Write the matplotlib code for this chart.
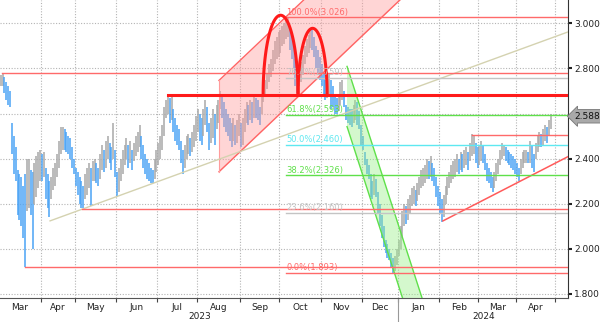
import numpy as np
import pandas as pd
import matplotlib
matplotlib.use("Agg")
import matplotlib.pyplot as plt
from matplotlib.collections import LineCollection
import matplotlib.transforms as mtransforms

# ---------------- data (daily high / low) ----------------
highs = [
    2.76, 2.77, 2.78, 2.76, 2.74, 2.72, 2.70, 2.56, 2.50, 2.45, 2.35, 2.33, 2.32, 2.28, 2.33, 2.40, 2.40, 2.35, 2.34, 2.38, 2.41, 2.43, 2.44,
    2.42, 2.43, 2.36, 2.33, 2.30, 2.32, 2.36, 2.38, 2.42, 2.48, 2.54, 2.54, 2.53, 2.52, 2.50, 2.49, 2.45, 2.40,
    2.36, 2.34, 2.32, 2.30, 2.28, 2.33, 2.36, 2.38, 2.36, 2.39, 2.40, 2.38, 2.36, 2.42, 2.46, 2.44, 2.48, 2.50, 2.47, 2.45, 2.56, 2.44,
    2.34, 2.36, 2.40, 2.44, 2.46, 2.49, 2.46, 2.48, 2.44, 2.47, 2.50, 2.52, 2.55, 2.50, 2.46, 2.42, 2.40, 2.38, 2.36, 2.35, 2.40, 2.44,
    2.47, 2.50, 2.55, 2.63, 2.66, 2.68, 2.67, 2.68, 2.62, 2.58, 2.55, 2.53, 2.48, 2.44, 2.46, 2.50, 2.51, 2.49, 2.52, 2.55, 2.59,
    2.62, 2.60, 2.58, 2.62, 2.66, 2.63, 2.56, 2.58, 2.62, 2.60, 2.64, 2.66, 2.70, 2.68, 2.65, 2.62, 2.60, 2.58, 2.56, 2.58, 2.55, 2.57, 2.60,
    2.56, 2.58, 2.62, 2.65, 2.64, 2.66, 2.65, 2.68, 2.67, 2.66, 2.63, 2.68, 2.72, 2.75, 2.78, 2.82, 2.84, 2.88, 2.92, 2.94, 2.96,
    2.97, 2.99, 3.00, 3.02, 3.026, 2.98, 2.95, 2.90, 2.84, 2.78, 2.80, 2.83, 2.86, 2.90, 2.93, 2.95, 2.98, 2.97, 2.94, 2.90, 2.88, 2.85,
    2.82, 2.78, 2.75, 2.74, 2.78, 2.75, 2.72, 2.68, 2.67, 2.68, 2.74, 2.75, 2.70, 2.64, 2.63, 2.62, 2.62, 2.64, 2.66, 2.65, 2.61, 2.55,
    2.50, 2.43, 2.40, 2.37, 2.33, 2.30, 2.33, 2.31, 2.25, 2.20, 2.15, 2.10, 2.04, 2.02, 2.00, 1.98, 1.96, 1.97, 2.00,
    2.04, 2.10, 2.17, 2.20, 2.19, 2.22, 2.24, 2.27, 2.28, 2.26, 2.29, 2.32, 2.35, 2.36, 2.37, 2.40, 2.39, 2.41, 2.38, 2.36, 2.32, 2.28,
    2.25, 2.22, 2.24, 2.28, 2.32, 2.34, 2.37, 2.39, 2.40, 2.42, 2.40, 2.43, 2.42, 2.44, 2.45, 2.43, 2.47, 2.51, 2.50, 2.47, 2.45,
    2.46, 2.48, 2.46, 2.42, 2.38, 2.36, 2.34, 2.32, 2.34, 2.38, 2.40, 2.44, 2.47, 2.46, 2.45, 2.44, 2.43, 2.42, 2.41, 2.40,
    2.38, 2.36, 2.40, 2.43, 2.44, 2.44, 2.43, 2.48, 2.46, 2.42, 2.47, 2.50, 2.52, 2.51, 2.53, 2.55, 2.54, 2.57, 2.60,
]
lows = [
    2.70, 2.72, 2.72, 2.69, 2.66, 2.64, 2.63, 2.42, 2.33, 2.30, 2.15, 2.13, 2.10, 2.05, 1.92, 2.17, 2.18, 2.15, 2.00, 2.20, 2.23, 2.27, 2.30,
    2.30, 2.32, 2.22, 2.18, 2.14, 2.22, 2.26, 2.28, 2.32, 2.36, 2.42, 2.44, 2.44, 2.43, 2.42, 2.40, 2.36, 2.33,
    2.28, 2.24, 2.20, 2.18, 2.18, 2.22, 2.24, 2.27, 2.19, 2.30, 2.30, 2.29, 2.28, 2.31, 2.35, 2.34, 2.36, 2.40, 2.38, 2.35, 2.40, 2.32,
    2.23, 2.25, 2.30, 2.33, 2.37, 2.40, 2.36, 2.38, 2.35, 2.39, 2.41, 2.43, 2.45, 2.40, 2.36, 2.33, 2.31, 2.30, 2.29, 2.29, 2.31, 2.34,
    2.37, 2.40, 2.44, 2.50, 2.58, 2.60, 2.56, 2.57, 2.52, 2.48, 2.46, 2.44, 2.38, 2.33, 2.36, 2.40, 2.42, 2.41, 2.43, 2.45, 2.48,
    2.52, 2.48, 2.46, 2.50, 2.55, 2.52, 2.44, 2.47, 2.49, 2.46, 2.53, 2.56, 2.62, 2.58, 2.54, 2.52, 2.50, 2.48, 2.45, 2.48, 2.46, 2.47, 2.50,
    2.45, 2.46, 2.52, 2.56, 2.55, 2.57, 2.56, 2.58, 2.58, 2.57, 2.55, 2.60, 2.65, 2.68, 2.71, 2.74, 2.76, 2.79, 2.82, 2.84, 2.85,
    2.87, 2.90, 2.91, 2.93, 2.94, 2.88, 2.84, 2.80, 2.72, 2.69, 2.72, 2.74, 2.77, 2.82, 2.85, 2.87, 2.89, 2.88, 2.85, 2.80, 2.77, 2.75,
    2.72, 2.68, 2.66, 2.67, 2.68, 2.62, 2.63, 2.60, 2.60, 2.61, 2.64, 2.66, 2.63, 2.57, 2.56, 2.55, 2.54, 2.56, 2.57, 2.55, 2.53, 2.46,
    2.44, 2.37, 2.33, 2.31, 2.23, 2.22, 2.24, 2.23, 2.16, 2.10, 2.05, 2.01, 1.98, 1.96, 1.95, 1.92, 1.893, 1.90, 1.93,
    1.97, 2.00, 2.05, 2.10, 2.11, 2.13, 2.16, 2.19, 2.20, 2.19, 2.21, 2.24, 2.27, 2.28, 2.29, 2.31, 2.31, 2.32, 2.30, 2.28, 2.23, 2.19,
    2.16, 2.12, 2.14, 2.20, 2.24, 2.27, 2.29, 2.31, 2.32, 2.34, 2.33, 2.35, 2.34, 2.36, 2.37, 2.35, 2.39, 2.41, 2.42, 2.38, 2.36,
    2.37, 2.39, 2.38, 2.35, 2.30, 2.29, 2.27, 2.25, 2.27, 2.30, 2.33, 2.37, 2.40, 2.41, 2.39, 2.38, 2.37, 2.36, 2.35, 2.33,
    2.32, 2.30, 2.33, 2.36, 2.38, 2.38, 2.38, 2.38, 2.36, 2.34, 2.40, 2.43, 2.45, 2.45, 2.46, 2.48, 2.47, 2.50, 2.53,
]
last_price = 2.588

holidays = ["2023-04-07", "2023-04-10", "2023-05-01", "2023-12-25", "2023-12-26",
            "2024-01-01", "2024-03-29", "2024-04-01", "2024-05-01"]

# horizontal support / resistance levels: (value, start trading-day index)
levels = [2.778, 2.178, 1.920, 2.507]
level_starts = [1.7, 44.3, 14.0, 252.1]
key_level = 2.684
key_level_start = 90.1

# Fibonacci retracement
fib_pcts = ["0.0%", "23.6%", "38.2%", "50.0%", "61.8%", "76.4%", "100.0%"]
fib_vals = [1.893, 2.160, 2.326, 2.460, 2.593, 2.759, 3.026]
fib_colors = ["#ff6a6a", "#c4c4c4", "#5fe04a", "#5ee8f0", "#5fe04a", "#c4c4c4", "#ff6a6a"]
fib_start = 152.8

# trend lines: (x0, y0, x1, y1) in trading-day index / value
tan_line = [27.3, 2.124, 303.2, 2.962]
red_trend = [236.6, 2.124, 303.2, 2.409]

# rising channel (red) and falling channel (green)
red_ch_x = [117.3, 213.7]
red_ch_lower = [2.342, 3.104]
red_ch_upper = [2.747, 3.509]
green_ch_x = [185.5, 240.0]
green_ch_upper = [2.809, 1.408]
green_ch_lower = [2.542, 1.141]

# double top arcs: (start, end, base, peak)
arcs = [(140.8, 159.4, 2.684, 3.036), (159.4, 174.9, 2.684, 2.978)]

# ---------------- figure ----------------
W, H = 600, 322
fig = plt.figure(figsize=(W / 100, H / 100), dpi=100)
ax = fig.add_axes([0, 1 - 298 / H, 568 / W, 298 / H])
plt.rcParams['font.family'] = ['DejaVu Sans']

all_days = pd.bdate_range("2023-03-01", "2024-05-20")
all_days = all_days[~all_days.isin(pd.to_datetime(holidays))]
n = len(highs)

hi = np.array(highs)
lo = np.array(lows)
mid = (hi + lo) / 2
cols = ["#a8a8a8" if k == 0 or mid[k] >= mid[k - 1] else "#4aa3f5" for k in range(n)]
segs = [[(k, lo[k]), (k, hi[k])] for k in range(n)]
ax.add_collection(LineCollection(segs, colors=cols, linewidths=1.1, zorder=2))

xmin, xmax = 0.64, 303.2
ymin, ymax = 1.782, 3.1036
ax.set_xlim(xmin, xmax)
ax.set_ylim(ymin, ymax)

# channels
xs = np.linspace(red_ch_x[0], red_ch_x[1], 50)
ax.fill_between(xs, np.interp(xs, red_ch_x, red_ch_lower), np.interp(xs, red_ch_x, red_ch_upper),
                color="#ff9c9c", alpha=0.42, lw=0, zorder=2.5)
ax.plot(red_ch_x, red_ch_lower, color="#ff6464", lw=1.0, zorder=3)
ax.plot(red_ch_x, red_ch_upper, color="#ff6464", lw=1.0, zorder=3)
ax.plot([red_ch_x[0]] * 2, [red_ch_lower[0], red_ch_upper[0]], color="#ff9c9c", lw=0.8, zorder=3)

xs = np.linspace(green_ch_x[0], green_ch_x[1], 50)
ax.fill_between(xs, np.interp(xs, green_ch_x, green_ch_lower), np.interp(xs, green_ch_x, green_ch_upper),
                color="#9af08a", alpha=0.42, lw=0, zorder=2.5)
ax.plot(green_ch_x, green_ch_lower, color="#5fe04a", lw=1.0, zorder=3)
ax.plot(green_ch_x, green_ch_upper, color="#5fe04a", lw=1.0, zorder=3)

# trend lines
ax.plot(tan_line[0::2], tan_line[1::2], color="#d4d2b0", lw=1.0, zorder=3)
ax.plot(red_trend[0::2], red_trend[1::2], color="#ff5a5a", lw=1.1, zorder=3)

# horizontal levels
for v, s in zip(levels, level_starts):
    ax.plot([s, xmax], [v, v], color="#ff6a6a", lw=1.0, zorder=3)
ax.plot([key_level_start, xmax], [key_level] * 2, color="#ff1a1a", lw=2.2, zorder=3.5)

# fibonacci
for p, v, c in zip(fib_pcts, fib_vals, fib_colors):
    ax.plot([fib_start, xmax], [v, v], color=c, lw=1.0, zorder=3)
    ax.annotate(f"{p}({v:.3f})", (fib_start + 0.5, v), xytext=(0, 0.5), textcoords="offset points",
                color=c, fontsize=6, va="bottom", ha="left", zorder=4)

# arcs
t = np.linspace(0, np.pi, 80)
for a0, a1, base, peak in arcs:
    cx = (a0 + a1) / 2
    rx = (a1 - a0) / 2
    ax.plot(cx - rx * np.cos(t), base + (peak - base) * np.sin(t), color="#ff1a1a", lw=2.2, zorder=3.5)

# grid / axes
month_start = [k for k in range(1, len(all_days)) if all_days[k].month != all_days[k - 1].month]
bounds = [k - 0.5 for k in month_start]
for b in bounds:
    if xmin < b < xmax:
        ax.axvline(b, color="#b4b4b4", lw=0.8, ls=(0, (1, 1.5)), zorder=0)
grid_y = [1.8, 2.0, 2.2, 2.4, 2.6, 2.8, 3.0]
for v in grid_y:
    ax.axhline(v, color="#b4b4b4", lw=0.8, ls=(0, (1, 1.5)), zorder=0)

yt = [1.8, 2.0, 2.2, 2.4, 2.8, 3.0]
ax.yaxis.tick_right()
ax.set_yticks(yt)
ax.set_yticklabels([f"{v:.3f}" for v in yt], fontsize=6.5, color="#222222")
ax.tick_params(axis="y", direction="out", length=3, width=1.5, pad=1.5, colors="#222222")

ax.set_xticks([b for b in bounds if xmin < b < xmax])
ax.set_xticklabels([])
ax.tick_params(axis="x", direction="out", length=3, width=0.8, colors="#444444")

xtr = ax.get_xaxis_transform()
edges = [0] + month_start
for a, b in zip(edges[:-1], edges[1:]):
    c = (a + b - 1) / 2
    if xmin < c < xmax and a < n:
        ax.text(c, -10 / 298, all_days[a].strftime("%b"), transform=xtr,
                ha="center", va="center", fontsize=6.5, color="#222222")

yr_split = [k for k in range(1, len(all_days)) if all_days[k].year != all_days[k - 1].year][0]
ax.text((xmin + yr_split) / 2, -18.5 / 298, "2023", transform=xtr,
        ha="center", va="center", fontsize=6.5, color="#222222")
ax.text((yr_split + xmax) / 2, -18.5 / 298, "2024", transform=xtr,
        ha="center", va="center", fontsize=6.5, color="#222222")
ax.plot([yr_split - 0.5] * 2, [0, -24 / 298], transform=xtr, clip_on=False,
        color="#999999", lw=0.8)

for s in ["top", "left"]:
    ax.spines[s].set_visible(False)
ax.spines["right"].set_color("#333333")
ax.spines["bottom"].set_color("#555555")
ax.spines["right"].set_linewidth(0.8)
ax.spines["bottom"].set_linewidth(0.8)

# last price tag
tr = mtransforms.blended_transform_factory(ax.transAxes, ax.transData)
ax.text(1.012, last_price, f"{last_price:.3f}", transform=tr, fontsize=6.5, color="#111111",
        ha="left", va="center", clip_on=False, zorder=10,
        bbox=dict(boxstyle="larrow,pad=0.25", fc="#a9a9a9", ec="#777777", lw=0.6))

fig.savefig("out.png", dpi=100)
